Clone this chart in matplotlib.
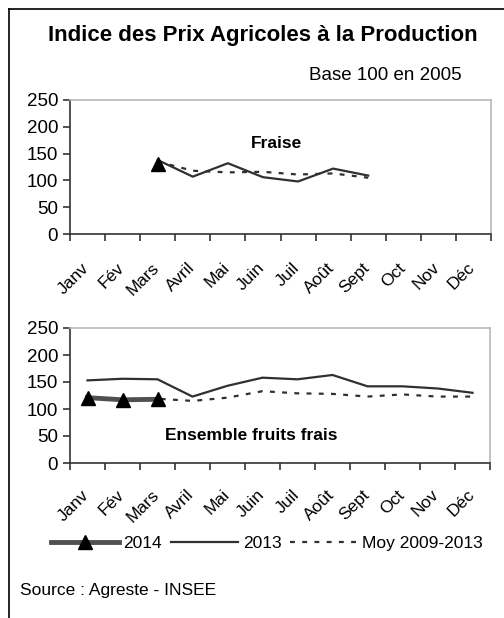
import matplotlib
matplotlib.use("Agg")
import matplotlib.pyplot as plt
from matplotlib.lines import Line2D
from matplotlib.transforms import ScaledTranslation
import numpy as np

plt.rcParams['font.family'] = ['Liberation Sans', 'DejaVu Sans']

months = ["Janv", "Fév", "Mars", "Avril", "Mai", "Juin", "Juil", "Août",
          "Sept", "Oct", "Nov", "Déc"]
nan = np.nan
# Fraise
fraise_2014 = [nan, nan, 130, nan, nan, nan, nan, nan, nan, nan, nan, nan]
fraise_2013 = [nan, nan, 138, 107, 132, 106, 98, 122, 109, nan, nan, nan]
fraise_moy = [nan, nan, 135, 118, 115, 116, 111, 113, 105, nan, nan, nan]
# Ensemble fruits frais
fruits_2014 = [121, 117, 118, nan, nan, nan, nan, nan, nan, nan, nan, nan]
fruits_2013 = [153, 156, 155, 123, 143, 158, 155, 163, 142, 142, 138, 130]
fruits_moy = [122, 118, 119, 115, 121, 133, 129, 128, 123, 127, 123, 123]
yticks = [0, 50, 100, 150, 200, 250]

W, H = 504, 618
fig = plt.figure(figsize=(W / 100, H / 100), dpi=100)

def ax_rect(l, t, r, b):
    return [l / W, 1 - b / H, (r - l) / W, (b - t) / H]

x = np.arange(12) + 0.5
c13 = "#303030"
c14 = "#505050"
dash = (0, (2.2, 3.3))

def style(ax, dy):
    ax.set_xlim(0, 12)
    ax.set_ylim(0, 250)
    ax.set_yticks(yticks)
    ax.set_xticks(np.arange(13))
    ax.set_xticklabels([])
    off = ScaledTranslation(-6 / 100, -dy / 100, fig.dpi_scale_trans)
    tr = ax.get_xaxis_transform() + off
    for xi, m in zip(x, months):
        ax.text(xi, 0, m, transform=tr, rotation=45, ha='right', va='top',
                rotation_mode='anchor', fontsize=12.5)
    ax.tick_params(axis='x', which='major', length=5, width=1.2, direction='out', color='#333333')
    ax.tick_params(axis='y', length=5, width=1.2, direction='out', labelsize=13.5, pad=3.5, color='#333333')
    for s in ['top', 'right']:
        ax.spines[s].set_color('#b8b8b8')
        ax.spines[s].set_linewidth(1.2)
    for s in ['left', 'bottom']:
        ax.spines[s].set_color('#333333')
        ax.spines[s].set_linewidth(1.2)

def draw(ax, s14, s13, smoy):
    ax.plot(x, smoy, color=c13, lw=1.6, ls=dash)
    ax.plot(x, s13, color=c13, lw=1.6)
    ax.plot(x, s14, color=c14, lw=3.5, marker='^', markersize=9.5,
            markerfacecolor='black', markeredgecolor='black')

ax1 = fig.add_axes(ax_rect(70, 100, 491, 234))
style(ax1, 26)
draw(ax1, fraise_2014, fraise_2013, fraise_moy)
fig.text(276 / W, 1 - 143 / H, "Fraise", ha='center', va='center',
         fontsize=12.5, fontweight='bold')

ax2 = fig.add_axes(ax_rect(70, 328, 490, 463))
style(ax2, 24)
draw(ax2, fruits_2014, fruits_2013, fruits_moy)
fig.text(251 / W, 1 - 436 / H, "Ensemble fruits frais", ha='center',
         va='center', fontsize=12.5, fontweight='bold')

fig.text(262.5 / W, 1 - 35 / H, "Indice des Prix Agricoles à la Production",
         ha='center', va='center', fontsize=16, fontweight='bold')
fig.text(462 / W, 1 - 75 / H, "Base 100 en 2005", ha='right', va='center', fontsize=13.5)
fig.text(20 / W, 1 - 590 / H, "Source : Agreste - INSEE", ha='left', va='center', fontsize=12.5)

handles = [
    Line2D([], [], color=c14, lw=3.5, marker='^', markersize=9.5,
           markerfacecolor='black', markeredgecolor='black'),
    Line2D([], [], color=c13, lw=1.6),
    Line2D([], [], color=c13, lw=1.6, ls=dash),
]
fig.legend(handles, ["2014", "2013", "Moy 2009-2013"], loc='center',
           bbox_to_anchor=(267 / W, 1 - 543 / H), ncol=3, frameon=False,
           fontsize=12.5, handlelength=3.9, handletextpad=0.25, columnspacing=0.5,
           borderaxespad=0, borderpad=0)

# outer frame: left and top lines
fig.add_artist(Line2D([8.5 / W, 8.5 / W], [0, 1 - 9 / H], transform=fig.transFigure,
                      color='black', lw=1.2))
fig.add_artist(Line2D([8.5 / W, 1], [1 - 9 / H, 1 - 9 / H], transform=fig.transFigure,
                      color='black', lw=1.2))

fig.savefig("out.png", dpi=100)
